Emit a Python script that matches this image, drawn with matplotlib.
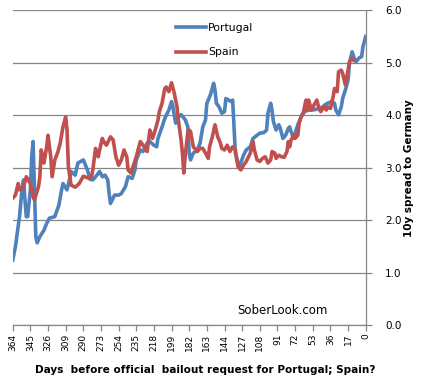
import matplotlib
matplotlib.use("Agg")
import matplotlib.pyplot as plt

# trading-day index (0 = 364 days before request, 260 = day 0)
portugal_x = [0, 2, 4, 5, 7, 8, 9, 10, 11, 13, 14, 15, 16, 17, 18, 20, 23, 25, 27, 31,
              34, 36, 37, 40, 42, 43, 46, 48, 52, 55, 57, 59, 62, 64, 66, 68, 70, 71, 72, 75,
              78, 80, 83, 85, 88, 90, 91, 94, 96, 99, 101, 104, 106, 107, 110, 112, 115, 117, 118, 120,
              122, 124, 127, 129, 130, 131, 133, 136, 138, 140, 142, 143, 145, 146, 148, 149, 150, 152, 154, 156,
              157, 159, 161, 162, 163, 164, 166, 167, 170, 172, 175, 177, 180, 182, 185, 187, 188, 190, 191, 192,
              194, 196, 197, 199, 201, 203, 204, 205, 207, 208, 210, 212, 213, 215, 218, 220, 223, 225, 228, 230,
              232, 235, 237, 238, 240, 242, 243, 245, 247, 248, 250, 252, 253, 255, 257, 258, 260]
portugal = [1.24, 1.50, 1.88, 2.07, 2.64, 2.77, 2.39, 2.07, 2.07, 2.58, 3.21, 3.50, 2.58, 1.69, 1.57, 1.69, 1.81, 1.94, 2.04, 2.07,
            2.29, 2.58, 2.70, 2.58, 2.80, 2.93, 2.86, 3.09, 3.15, 2.96, 2.78, 2.77, 2.86, 2.93, 2.83, 2.86, 2.77, 2.51, 2.32, 2.48,
            2.48, 2.51, 2.64, 2.83, 2.80, 2.96, 3.15, 3.34, 3.31, 3.47, 3.50, 3.43, 3.40, 3.56, 3.78, 3.94, 4.10, 4.26, 4.16, 3.85,
            3.97, 4.01, 3.92, 3.78, 3.28, 3.15, 3.28, 3.34, 3.47, 3.78, 3.91, 4.23, 4.35, 4.42, 4.61, 4.48, 4.23, 4.16, 4.04, 4.07,
            4.32, 4.29, 4.26, 4.29, 3.78, 3.28, 3.09, 3.02, 3.24, 3.34, 3.40, 3.56, 3.62, 3.66, 3.67, 3.72, 4.04, 4.23, 4.10, 3.88,
            3.72, 3.82, 3.76, 3.56, 3.62, 3.75, 3.78, 3.69, 3.56, 3.66, 3.82, 3.94, 4.01, 4.07, 4.10, 4.10, 4.11, 4.13, 4.15, 4.20,
            4.23, 4.26, 4.23, 4.10, 4.01, 4.16, 4.32, 4.48, 4.67, 4.99, 5.21, 5.05, 5.02, 5.09, 5.12, 5.31, 5.50]

spain_x = [0, 2, 4, 5, 8, 10, 13, 15, 16, 19, 20, 21, 23, 25, 26, 28, 29, 31, 33, 35,
           37, 39, 40, 41, 43, 46, 49, 52, 56, 58, 59, 61, 63, 64, 66, 67, 69, 72, 74, 76,
           78, 80, 82, 84, 85, 87, 89, 91, 94, 96, 99, 101, 103, 105, 107, 108, 110, 112, 113, 115,
           117, 119, 121, 122, 124, 125, 126, 127, 129, 130, 131, 133, 136, 138, 140, 142, 144, 145, 147, 149,
           151, 153, 154, 156, 158, 160, 162, 164, 165, 166, 168, 170, 172, 175, 177, 178, 180, 182, 184, 186,
           188, 190, 191, 193, 194, 196, 198, 200, 202, 203, 204, 205, 207, 208, 210, 211, 212, 214, 216, 217,
           218, 220, 222, 224, 226, 227, 229, 231, 232, 234, 236, 237, 239, 240, 242, 243, 245, 247, 248, 250, 251]
spain = [2.42, 2.48, 2.70, 2.58, 2.64, 2.83, 2.70, 2.45, 2.39, 2.64, 2.83, 3.34, 3.09, 3.40, 3.62, 3.21, 2.83, 3.15, 3.28, 3.47,
         3.78, 3.97, 3.72, 3.02, 2.67, 2.63, 2.70, 2.84, 2.80, 2.83, 2.96, 3.37, 3.21, 3.34, 3.56, 3.50, 3.43, 3.59, 3.53, 3.21,
         3.05, 3.15, 3.34, 3.21, 2.96, 2.90, 3.05, 3.21, 3.50, 3.43, 3.31, 3.72, 3.56, 3.72, 3.91, 4.07, 4.23, 4.51, 4.54, 4.45,
         4.62, 4.42, 4.16, 3.91, 3.53, 3.28, 2.90, 3.21, 3.69, 3.72, 3.69, 3.40, 3.31, 3.37, 3.37, 3.28, 3.18, 3.40, 3.59, 3.82,
         3.59, 3.47, 3.37, 3.34, 3.43, 3.31, 3.40, 3.34, 3.15, 3.02, 2.96, 3.05, 3.12, 3.28, 3.50, 3.34, 3.15, 3.12, 3.18, 3.21,
         3.09, 3.15, 3.31, 3.28, 3.18, 3.24, 3.21, 3.20, 3.31, 3.50, 3.40, 3.53, 3.62, 3.56, 3.62, 3.85, 3.94, 4.04, 4.29, 4.10,
         4.29, 4.10, 4.20, 4.29, 4.10, 4.07, 4.16, 4.10, 4.16, 4.13, 4.35, 4.51, 4.45, 4.83, 4.86, 4.80, 4.58, 4.86, 5.02, 5.09, 5.05]

tick_labels = ["364", "345", "326", "309", "290", "273", "254", "235", "218", "199", "182",
               "163", "144", "127", "108", "91", "72", "53", "36", "17", "0"]
y_ticks = [0, 1, 2, 3, 4, 5, 6]

grid_col = "#868686"

fig = plt.figure(figsize=(4.24, 3.79), dpi=100)
ax = fig.add_axes([0.030, 0.1417, 0.8325, 0.8311])

ax.plot(portugal_x, portugal, color="#4F81BD", lw=2.6, label="Portugal", solid_joinstyle="round")
ax.plot(spain_x, spain, color="#C0504D", lw=2.6, label="Spain", solid_joinstyle="round")

ax.set_xlim(0, 260)
ax.set_ylim(0, 6)
ax.set_xticks([i * 13 for i in range(len(tick_labels))])
ax.set_xticklabels(tick_labels, rotation=90, fontsize=6.5)
ax.set_yticks(y_ticks)
ax.set_yticklabels([f"{v:.1f}" for v in y_ticks], fontsize=7.5)
ax.yaxis.tick_right()
ax.yaxis.set_label_position("right")
ax.set_ylabel("10y spread to Germany", fontsize=7.5, fontweight="bold", labelpad=2)
ax.set_xlabel("Days  before official  bailout request for Portugal; Spain?",
              fontsize=7.6, fontweight="bold")
ax.xaxis.set_label_coords(0.545, -0.125)

ax.grid(axis="y", color=grid_col, lw=0.9)
ax.set_axisbelow(True)
for side in ["top", "left"]:
    ax.spines[side].set_visible(False)
for side in ["bottom", "right"]:
    ax.spines[side].set_color(grid_col)
    ax.spines[side].set_linewidth(0.9)
ax.tick_params(axis="x", colors=grid_col, labelcolor="black", length=4, width=0.9, pad=2)
ax.tick_params(axis="y", colors=grid_col, labelcolor="black", length=4, width=0.9, pad=10)

ax.legend(loc="upper left", bbox_to_anchor=(0.435, 0.99), frameon=False, fontsize=7.8,
          handlelength=2.8, handletextpad=0.15, labelspacing=1.3)

ax.text(0.635, 0.035, "SoberLook.com", transform=ax.transAxes, fontsize=8.5, ha="left")

fig.savefig("out.png", dpi=100)
